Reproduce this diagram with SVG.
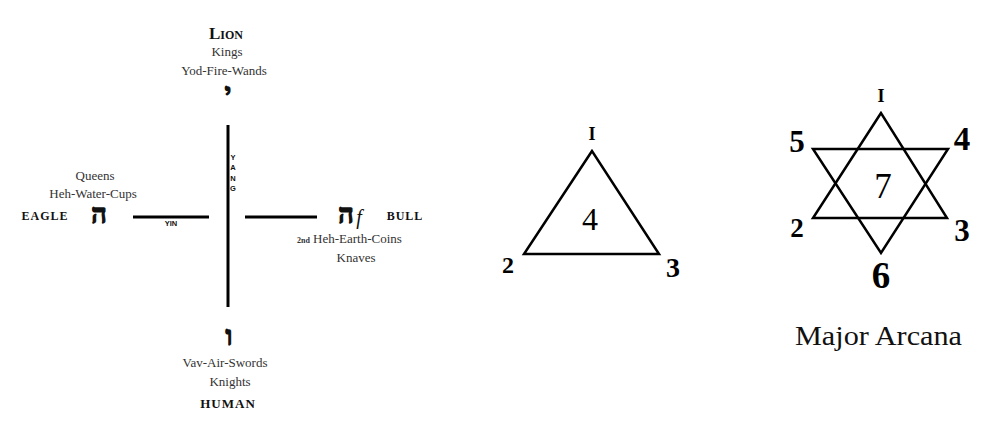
<svg xmlns="http://www.w3.org/2000/svg" width="1000" height="429" viewBox="0 0 1000 429">
<style>
.t{font-family:"Liberation Serif",serif;font-size:13px;fill:#333;text-anchor:middle}
.b{font-family:"Liberation Serif",serif;font-weight:bold;fill:#111;text-anchor:middle}
.h{font-family:"Liberation Serif","DejaVu Sans",serif;font-weight:bold;fill:#111;stroke:#111;stroke-width:1.3;text-anchor:middle}
.s{font-family:"Liberation Sans",sans-serif;font-weight:bold;font-size:7.5px;fill:#111;text-anchor:middle}
.ln{stroke:#000;stroke-width:3;fill:none}
.tri{stroke:#000;stroke-width:2.5;fill:none;stroke-linejoin:miter}
.n{font-family:"Liberation Serif",serif;fill:#000;text-anchor:middle}
</style>
<rect width="1000" height="429" fill="#fff"/>
<g id="connectors">
<line class="ln" x1="228" y1="125" x2="228" y2="307"/>
<line class="ln" x1="133" y1="217" x2="209" y2="217"/>
<line class="ln" x1="245" y1="217" x2="317" y2="217"/>
<text class="s" x="233" y="160">Y</text>
<text class="s" x="233" y="170">A</text>
<text class="s" x="233" y="181">N</text>
<text class="s" x="233" y="191">G</text>
<text class="s" x="171" y="226">YIN</text>
</g>
<g id="lion">
<text class="b" x="226" y="39" font-size="17" style="font-variant:small-caps">Lion</text>
<text class="t" x="227" y="56">Kings</text>
<text class="t" x="224" y="75">Yod-Fire-Wands</text>
<text class="h" x="228" y="100" font-size="24">י</text>
</g>
<g id="eagle">
<text class="t" x="95" y="180">Queens</text>
<text class="t" x="93" y="198">Heh-Water-Cups</text>
<text class="b" x="45" y="220" font-size="12" letter-spacing="1">EAGLE</text>
<text class="h" x="99" y="223" font-size="27">ה</text>
</g>
<g id="bull">
<text class="h" x="346" y="223" font-size="27">ה</text>
<text x="359" y="224" font-family="Liberation Serif,serif" font-style="italic" font-size="20" fill="#111" text-anchor="middle">f</text>
<text class="b" x="405" y="220" font-size="12" letter-spacing="1">BULL</text>
<text x="297" y="243" font-family="Liberation Serif,serif" font-weight="bold" font-size="8" fill="#333">2nd</text>
<text x="313" y="243" font-family="Liberation Serif,serif" font-size="13" fill="#333">Heh-Earth-Coins</text>
<text class="t" x="356" y="262">Knaves</text>
</g>
<g id="human">
<text class="h" x="229" y="345" font-size="27">ו</text>
<text class="t" x="225" y="367">Vav-Air-Swords</text>
<text class="t" x="230" y="386">Knights</text>
<text class="b" x="228" y="408" font-size="13" letter-spacing="1">HUMAN</text>
</g>
<g id="triangle">
<polygon class="tri" points="592,151 524,254 659,254"/>
<text class="n" x="592" y="140" font-size="18" font-weight="bold">I</text>
<text class="n" x="590" y="230" font-size="32">4</text>
<text class="n" x="508" y="273" font-size="24" font-weight="bold">2</text>
<text class="n" x="673" y="277" font-size="28" font-weight="bold">3</text>
</g>
<g id="star">
<polygon class="tri" points="881,113 813,218 947,218"/>
<polygon class="tri" points="813,149 948,149 881,253"/>
<text class="n" x="881" y="102" font-size="18" font-weight="bold">I</text>
<text class="n" x="797" y="152" font-size="31" font-weight="bold">5</text>
<text class="n" x="962" y="150" font-size="33" font-weight="bold">4</text>
<text class="n" x="883" y="198" font-size="35">7</text>
<text class="n" x="797" y="237" font-size="27" font-weight="bold">2</text>
<text class="n" x="962" y="241" font-size="31" font-weight="bold">3</text>
<text class="n" x="881" y="288" font-size="37" font-weight="bold">6</text>
</g>
<g id="major-arcana">
<text x="795" y="345" font-family="Liberation Serif,serif" font-size="27" fill="#111" textLength="167" lengthAdjust="spacingAndGlyphs">Major Arcana</text>
</g>
</svg>
